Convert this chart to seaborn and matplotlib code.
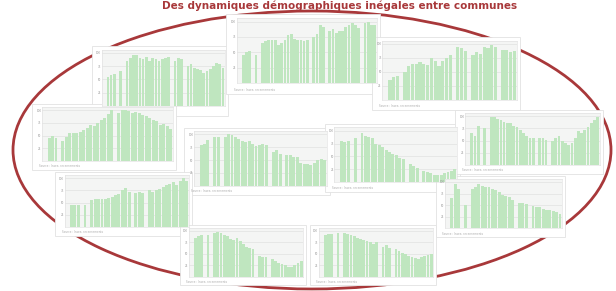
import matplotlib
matplotlib.use("Agg")
import matplotlib.pyplot as plt
from matplotlib.patches import Ellipse, Rectangle
import seaborn as sns

sns.set_theme(style="whitegrid")
plt.rcParams['font.family'] = ['DejaVu Sans']

title = "Des dynamiques démographiques inégales entre communes"

# Normalised population series (0 = missing year)
commune_a = [0.55, 0.58, 0.60, 0, 0.65, 0, 0.85, 0.90, 0.95, 0.95, 0.90, 0.88, 0.92, 0.85, 0.90, 0.88,
             0.85, 0.88, 0.90, 0.92, 0, 0.85, 0.90, 0.88, 0, 0.75, 0.78, 0.72, 0.70, 0.68, 0.62, 0.65,
             0.70, 0.75, 0.80, 0.78, 0.72]
commune_b = [0.45, 0.50, 0.52, 0, 0.45, 0, 0.65, 0.68, 0.70, 0.70, 0.70, 0.62, 0.65, 0.70, 0.78, 0.80,
             0.72, 0.70, 0.70, 0.68, 0.70, 0, 0.75, 0.80, 0.95, 0.92, 0, 0.85, 0.88, 0.82, 0.85, 0.85,
             0.92, 0.95, 0.98, 0.95, 0.90, 0, 0.98, 1.00, 0.95, 0.95]
commune_c = [0.35, 0.40, 0.42, 0, 0.50, 0.60, 0.65, 0.65, 0.68, 0.65, 0.62, 0.75, 0.70, 0.60, 0.70,
             0.75, 0.80, 0, 0.95, 0.92, 0.88, 0, 0.80, 0.85, 0.82, 0.95, 0.92, 0.98, 0.95, 0, 0.90,
             0.90, 0.85, 0.88]
commune_d = [0.45, 0.50, 0.45, 0, 0.40, 0.48, 0.55, 0.55, 0.55, 0.58, 0.60, 0.65, 0.70, 0.68, 0.75,
             0.80, 0.85, 0.92, 1.00, 0, 0.95, 1.00, 1.00, 0.98, 0.95, 0.97, 0.95, 0.90, 0.88, 0.85,
             0.80, 0.78, 0.70, 0.72, 0.68, 0.62]
commune_e = [0.80, 0.82, 0.90, 0, 0.95, 0.95, 0, 0.95, 1.00, 0.98, 0.95, 0.92, 0.88, 0.85, 0.88, 0.82,
             0.78, 0.80, 0.82, 0.80, 0, 0.65, 0.70, 0.62, 0, 0.60, 0.60, 0.55, 0.55, 0.45, 0.42, 0.42,
             0.40, 0.45, 0.50, 0.52, 0.50]
commune_f = [0.80, 0.78, 0.80, 0, 0.85, 0, 0.95, 0.90, 0.88, 0.85, 0.75, 0.72, 0.68, 0.62, 0.58, 0.55,
             0.52, 0.48, 0.45, 0, 0.35, 0.32, 0.28, 0, 0.22, 0.20, 0.18, 0.15, 0.15, 0.15, 0.18, 0.20,
             0.22, 0.25]
commune_g = [0.65, 0.60, 0.80, 0, 0.75, 0, 0.98, 0.98, 0.95, 0.92, 0.88, 0.85, 0.85, 0.80, 0.78, 0.72,
             0.65, 0.60, 0.55, 0.55, 0, 0.55, 0.55, 0.52, 0, 0.50, 0.55, 0.60, 0.50, 0.45, 0.40, 0.45,
             0.55, 0.70, 0.65, 0.72, 0.78, 0.85, 0.92, 0.98]
commune_h = [0.45, 0.45, 0.45, 0, 0.45, 0, 0.55, 0.58, 0.58, 0.58, 0.58, 0.60, 0.62, 0.65, 0.68, 0.75,
             0.80, 0.72, 0, 0.70, 0.72, 0.70, 0, 0.75, 0.72, 0.75, 0.78, 0.82, 0.85, 0.88, 0.92, 0.85,
             0.95, 1.00, 0.95]
commune_i = [0.65, 0.95, 0.85, 0, 0.50, 0, 0.85, 0.90, 0.95, 0.92, 0.90, 0.88, 0.85, 0.82, 0.78, 0.72,
             0.70, 0.68, 0.62, 0, 0.55, 0.55, 0.52, 0, 0.48, 0.45, 0.45, 0.42, 0.40, 0.40, 0.38, 0.35,
             0.30]
commune_j = [0.85, 0.88, 0.90, 0, 0.90, 0, 0.95, 0.98, 0.95, 0.90, 0.88, 0.82, 0.80, 0.85, 0.78, 0.72,
             0.65, 0.62, 0.60, 0, 0.45, 0.42, 0.42, 0, 0.38, 0.35, 0.30, 0.28, 0.25, 0.22, 0.20, 0.25,
             0.30, 0.35]
commune_k = [0.90, 0.92, 0.92, 0, 0.95, 0, 0.95, 0.92, 0.90, 0.88, 0.85, 0.82, 0.80, 0.78, 0.75, 0.72,
             0.75, 0, 0.65, 0.70, 0.62, 0, 0.60, 0.55, 0.52, 0.50, 0.45, 0.42, 0.40, 0.38, 0.42, 0.45,
             0.48, 0.50]

series = [commune_a, commune_b, commune_c, commune_d, commune_e, commune_f,
          commune_g, commune_h, commune_i, commune_j, commune_k]

# panel boxes in pixels (x0, y0, x1, y1) - card extents
boxes = [(92, 46, 228, 116), (226, 14, 380, 94), (372, 37, 520, 110), (32, 104, 176, 170),
         (184, 128, 330, 195), (325, 124, 460, 192), (455, 110, 603, 174), (55, 172, 192, 236),
         (436, 176, 565, 237), (180, 225, 306, 285), (310, 225, 436, 285)]

W, H = 616, 291
fig = plt.figure(figsize=(W / 100, H / 100), dpi=100)
fig.patch.set_facecolor("white")

bg = fig.add_axes([0, 0, 1, 1])
bg.set_xlim(0, W)
bg.set_ylim(H, 0)
bg.axis("off")
bg.add_patch(Ellipse((312, 150), 598, 278, fill=False, edgecolor="#a8383a", linewidth=2.0))
bg.text(340, 0.5, title, ha="center", va="top", color="#a8383a", fontsize=7.5, fontweight="bold")

green = "#bfe6bf"
for (x0, y0, x1, y1), vals in zip(boxes, series):
    bg.add_patch(Rectangle((x0, y0), x1 - x0, y1 - y0, facecolor="white", edgecolor="#e2e2e2", linewidth=0.6))
    px0 = x0 + 0.07 * (x1 - x0)
    px1 = x1 - 0.02 * (x1 - x0)
    py0 = y0 + 0.05 * (y1 - y0)
    py1 = y1 - 0.14 * (y1 - y0)
    ax = fig.add_axes([px0 / W, 1 - py1 / H, (px1 - px0) / W, (py1 - py0) / H])
    ax.set_facecolor("#f4f5f4")
    sns.barplot(x=list(range(len(vals))), y=vals, color=green, width=0.85, ax=ax,
                saturation=1, edgecolor=green, linewidth=0)
    ax.set_ylim(0, 1.06)
    ax.set_xlim(-2, len(vals) - 0.3)
    ax.set_yticks([0.25, 0.5, 0.75, 1.0])
    ax.set_yticklabels(["25", "50", "75", "100"], fontsize=2, color="#999999")
    ax.set_xticks([])
    ax.tick_params(length=0, pad=0.5)
    ax.grid(axis="y", color="#dcdcdc", linewidth=0.4)
    ax.grid(axis="x", visible=False)
    ax.set_xlabel("")
    ax.set_ylabel("")
    for s in ax.spines.values():
        s.set_color("#dddddd")
        s.set_linewidth(0.4)
    bg.text(x0 + 0.05 * (x1 - x0), y1 - 0.055 * (y1 - y0), "Source : Insee, recensements",
            fontsize=2, color="#aaaaaa", va="center")

fig.savefig("out.png", dpi=100)
